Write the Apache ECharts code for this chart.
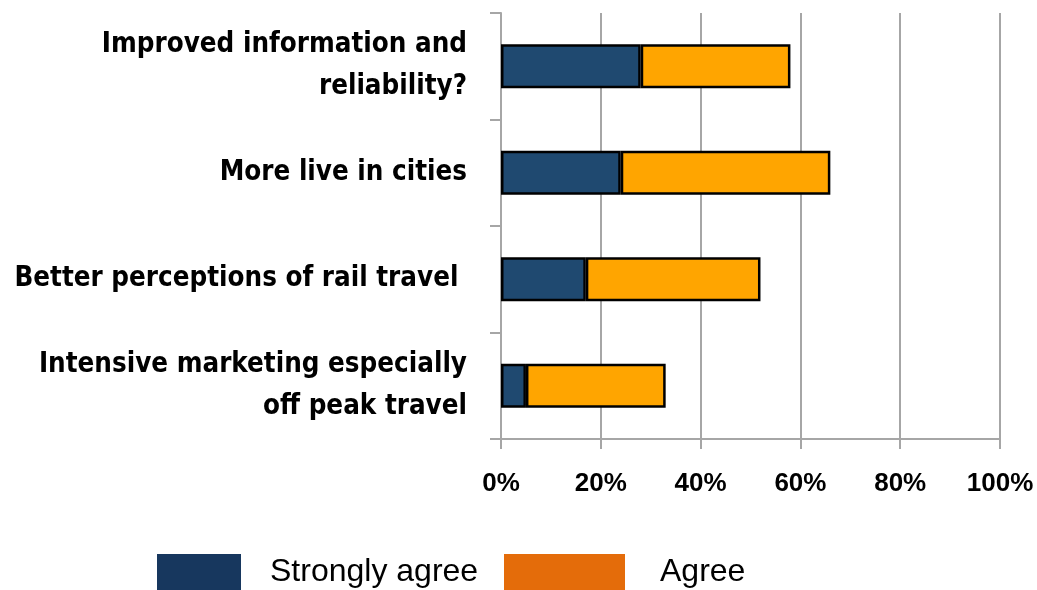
<!DOCTYPE html>
<html><head><meta charset="utf-8">
<script src="https://cdn.jsdelivr.net/npm/echarts@6/dist/echarts.min.js"></script>
<style>html,body{margin:0;padding:0;background:#fff}#c{width:1037px;height:590px}</style>
</head><body><div id="c"></div>
<script>
const categories = ['Improved information and\nreliability?', 'More live in cities', 'Better perceptions of rail travel ', 'Intensive marketing especially\noff peak travel'];
const stronglyAgree = [28, 24, 17, 5];
const agree = [30, 42, 35, 28];
const xTicks = [0, 20, 40, 60, 80, 100];

// pick a condensed bold face if one is installed, and size it so the labels fit the reference widths
const cv = document.createElement('canvas').getContext('2d');
function w(font, s) { cv.font = font; return cv.measureText(s || 'Improved information and').width; }
const candidates = ['Liberation Sans Narrow', 'DejaVu Sans Condensed', 'Roboto Condensed', 'Open Sans Condensed', 'Arial Narrow'];
let catFont = 'Liberation Sans';
for (const f of candidates) {
  if (Math.abs(w('bold 40px "' + f + '", monospace') - w('bold 40px monospace')) > 0.5 &&
      Math.abs(w('bold 40px "' + f + '", serif') - w('bold 40px serif')) > 0.5) { catFont = f; break; }
}
let catSize = 30;
{
  const b1 = w('bold 40px "' + catFont + '"');
  const b2 = w('bold 40px "' + catFont + '"', 'Better perceptions of rail travel');
  const s = Math.min(40 * 376 / b1, 40 * 450 / b2);
  catSize = Math.min(37, Math.floor(s * 2) / 2);
}

const chart = echarts.init(document.getElementById('c'), null, {renderer: 'canvas'});
const gray = '#A6A6A6';
chart.setOption({
  animation: false,
  grid: {left: 501, right: 37, top: 13, bottom: 151, containLabel: false, outerBoundsMode: 'none'},
  xAxis: {
    type: 'value', min: xTicks[0], max: xTicks[xTicks.length - 1], interval: xTicks[1] - xTicks[0],
    axisLine: {show: true, lineStyle: {color: gray, width: 2}},
    axisTick: {show: true, length: 10, lineStyle: {color: gray, width: 2}},
    splitLine: {show: true, lineStyle: {color: gray, width: 2}},
    axisLabel: {formatter: v => v + '%', fontFamily: 'Liberation Sans', fontWeight: 'bold', fontSize: 26, color: '#000', margin: 32}
  },
  yAxis: {
    type: 'category', data: categories, inverse: true,
    axisLine: {show: true, lineStyle: {color: gray, width: 2}},
    axisTick: {show: true, length: 11, lineStyle: {color: gray, width: 2}},
    axisLabel: {fontFamily: catFont, fontWeight: 'bold', fontSize: catSize, color: '#000', margin: 34, lineHeight: 42, align: 'right'}
  },
  legend: [
    {data: [{name: 'Strongly agree', itemStyle: {color: '#17375E', borderWidth: 0}}], left: 157, top: 554, padding: 0, itemWidth: 84, itemHeight: 36,
     icon: 'rect', textStyle: {fontFamily: 'Liberation Sans', fontSize: 32, color: '#000', padding: [0, 0, 0, 24]}, selectedMode: false},
    {data: [{name: 'Agree', itemStyle: {color: '#E46C0A', borderWidth: 0}}], left: 504, top: 554, padding: 0, itemWidth: 121, itemHeight: 36,
     icon: 'rect', textStyle: {fontFamily: 'Liberation Sans', fontSize: 32, color: '#000', padding: [0, 0, 0, 30]}, selectedMode: false}
  ],
  series: [
    {name: 'Strongly agree', type: 'bar', stack: 's', data: stronglyAgree, barWidth: 44,
     itemStyle: {color: '#1F4970', borderColor: '#000', borderWidth: 2.5}},
    {name: 'Agree', type: 'bar', stack: 's', data: agree, barWidth: 44,
     itemStyle: {color: '#FFA500', borderColor: '#000', borderWidth: 2.5}}
  ]
});
</script></body></html>
